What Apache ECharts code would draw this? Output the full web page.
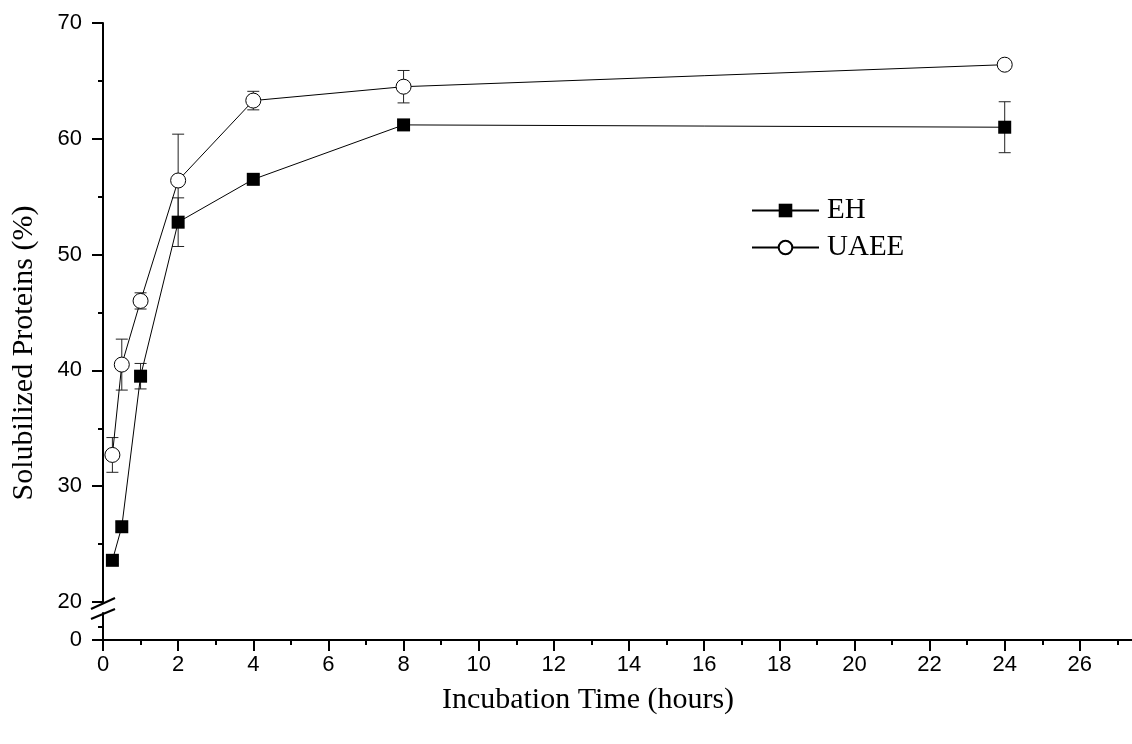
<!DOCTYPE html>
<html>
<head>
<meta charset="utf-8">
<title>Solubilized Proteins</title>
<script src="https://cdn.jsdelivr.net/npm/echarts@6/dist/echarts.min.js"></script>
<style>
  html, body { margin: 0; padding: 0; background: #fff; }
  #chart { width: 1132px; height: 744px; }
</style>
</head>
<body>
<div id="chart"></div>
<script>
    // incubation time (hours)
    var times = [0.25, 0.5, 1, 2, 4, 8, 24];
    // solubilized proteins (%) and error (+/-)
    var ehMean = [23.6, 26.5, 39.5, 52.8, 56.5, 61.2, 61.0];
    var ehErr = [0.3, 0.4, 1.1, 2.1, 0.4, 0.3, 2.2];
    var uaeeMean = [32.7, 40.5, 46.0, 56.4, 63.3, 64.5, 66.4];
    var uaeeErr = [1.5, 2.2, 0.7, 4.0, 0.8, 1.4, 0.3];
    var yTicksUpper = [20, 30, 40, 50, 60, 70];

    var sans = 'Liberation Sans, Arial, sans-serif';
    var serif = 'Liberation Serif, Times New Roman, serif';

    function pairs(xs, ys) {
        var out = [];
        for (var i = 0; i < xs.length; i++) out.push([xs[i], ys[i]]);
        return out;
    }
    function errRows(xs, ys, es) {
        var out = [];
        for (var i = 0; i < xs.length; i++) out.push([xs[i], ys[i] - es[i], ys[i] + es[i]]);
        return out;
    }

    function errorItem(params, api) {
        var x = api.value(0);
        var lo = api.coord([x, api.value(1)]);
        var hi = api.coord([x, api.value(2)]);
        var w = 6;
        var st = { stroke: '#222', lineWidth: 1 };
        return {
            type: 'group',
            children: [
                { type: 'line', shape: { x1: lo[0], y1: lo[1], x2: hi[0], y2: hi[1] }, style: st },
                { type: 'line', shape: { x1: hi[0] - w, y1: hi[1], x2: hi[0] + w, y2: hi[1] }, style: st },
                { type: 'line', shape: { x1: lo[0] - w, y1: lo[1], x2: lo[0] + w, y2: lo[1] }, style: st }
            ]
        };
    }

    var axisLine = { show: true, lineStyle: { color: '#000', width: 2 } };
    var label = { color: '#000', fontFamily: sans, fontSize: 22 };

    var chart = echarts.init(document.getElementById('chart'));
    chart.setOption({
        animation: false,
        grid: [
            { left: 103, right: -23, top: 23, bottom: 142, outerBoundsMode: 'none' },
            { left: 103, right: -23, top: 613, bottom: 104, outerBoundsMode: 'none' }
        ],
        xAxis: [
            { gridIndex: 0, type: 'value', min: 0, max: 28, interval: 2, show: false },
            {
                gridIndex: 1, type: 'value', min: 0, max: 28, interval: 2,
                axisLine: axisLine,
                axisTick: { show: true, length: 11, lineStyle: { color: '#000', width: 2 } },
                minorTick: { show: true, splitNumber: 2, length: 5, lineStyle: { color: '#000', width: 2 } },
                axisLabel: Object.assign({ margin: 14 }, label),
                splitLine: { show: false }
            }
        ],
        yAxis: [
            {
                gridIndex: 0, type: 'value', min: 20, max: 70, interval: 10,
                axisLine: axisLine,
                axisTick: { show: true, length: 11, lineStyle: { color: '#000', width: 2 } },
                minorTick: { show: true, splitNumber: 2, length: 5, lineStyle: { color: '#000', width: 2 } },
                axisLabel: Object.assign({ margin: 21, customValues: yTicksUpper }, label),
                splitLine: { show: false }
            },
            {
                gridIndex: 1, type: 'value', min: 0, max: 2, interval: 2, position: 'left',
                axisLine: axisLine,
                axisTick: { show: true, length: 11, customValues: [0], lineStyle: { color: '#000', width: 2 } },
                minorTick: { show: true, splitNumber: 2, length: 5, lineStyle: { color: '#000', width: 2 } },
                axisLabel: Object.assign({ margin: 21, customValues: [0] }, label),
                splitLine: { show: false }
            }
        ],
        legend: {
            orient: 'vertical',
            left: 751,
            top: 196,
            padding: 0,
            itemWidth: 67,
            itemHeight: 17,
            itemGap: 8,
            data: ['EH', 'UAEE'],
            textStyle: { color: '#000', fontFamily: serif, fontSize: 29, lineHeight: 29, padding: [0, 0, 0, 3] }
        },
        graphic: [
            // axis break marks
            { type: 'line', shape: { x1: 91, y1: 609, x2: 115, y2: 598 }, style: { stroke: '#000', lineWidth: 2 } },
            { type: 'line', shape: { x1: 91, y1: 619, x2: 115, y2: 609 }, style: { stroke: '#000', lineWidth: 2 } },
            {
                type: 'text', x: 588, y: 700,
                style: { text: 'Incubation Time (hours)', fontFamily: serif, fontSize: 30, fill: '#000', textAlign: 'center', textVerticalAlign: 'middle' }
            },
            {
                type: 'text', x: 24, y: 353, rotation: Math.PI / 2,
                style: { text: 'Solubilized Proteins (%)', fontFamily: serif, fontSize: 30, fill: '#000', textAlign: 'center', textVerticalAlign: 'middle' }
            }
        ],
        series: [
            {
                name: 'EH err', type: 'custom', xAxisIndex: 0, yAxisIndex: 0, z: 1,
                renderItem: errorItem, encode: { x: 0, y: [1, 2] },
                data: errRows(times, ehMean, ehErr)
            },
            {
                name: 'UAEE err', type: 'custom', xAxisIndex: 0, yAxisIndex: 0, z: 1,
                renderItem: errorItem, encode: { x: 0, y: [1, 2] },
                data: errRows(times, uaeeMean, uaeeErr)
            },
            {
                name: 'EH', type: 'line', xAxisIndex: 0, yAxisIndex: 0, z: 3,
                symbol: 'rect', symbolSize: 13,
                lineStyle: { color: '#000', width: 1 },
                itemStyle: { color: '#000', borderColor: '#000', borderWidth: 0 },
                data: pairs(times, ehMean)
            },
            {
                name: 'UAEE', type: 'line', xAxisIndex: 0, yAxisIndex: 0, z: 3,
                symbol: 'circle', symbolSize: 15,
                lineStyle: { color: '#000', width: 1 },
                itemStyle: { color: '#fff', borderColor: '#000', borderWidth: 1 },
                data: pairs(times, uaeeMean)
            }
        ]
    });
</script>
</body>
</html>
